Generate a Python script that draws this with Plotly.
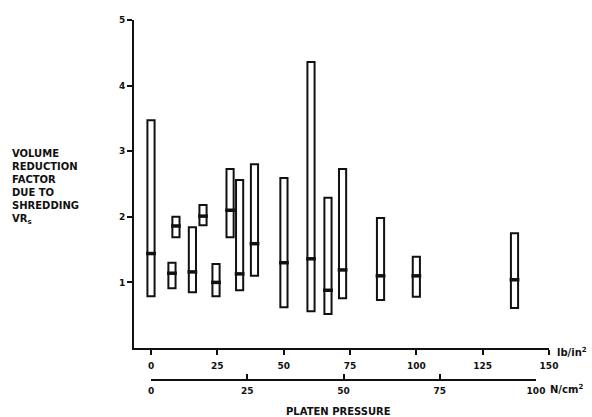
import plotly.graph_objects as go

# Data (platen pressure in lb/in^2, volume reduction factor range and median)
pressure_psi = [0, 7.9, 9.4, 15.6, 19.6, 24.5, 29.8, 33.4, 39.0, 50.1, 60.3, 66.7, 72.2, 86.5, 100, 137]
vr_low =       [0.79, 0.91, 1.69, 0.85, 1.87, 0.79, 1.69, 0.88, 1.10, 0.62, 0.56, 0.52, 0.76, 0.73, 0.78, 0.61]
vr_median =    [1.44, 1.14, 1.86, 1.16, 2.01, 1.00, 2.10, 1.13, 1.59, 1.30, 1.36, 0.88, 1.19, 1.10, 1.10, 1.04]
vr_high =      [3.47, 1.30, 2.00, 1.84, 2.18, 1.28, 2.73, 2.56, 2.80, 2.59, 4.36, 2.29, 2.73, 1.98, 1.39, 1.75]

x_ticks_psi = [0, 25, 50, 75, 100, 125, 150]
x_ticks_ncm = [0, 25, 50, 75, 100]
y_ticks = [1, 2, 3, 4, 5]

W, H = 592, 417
L, R, T, B = 134, 43, 20, 32
pw, ph = W - L - R, H - T - B

def px(x):
    return (x - L) / pw

def py(y):
    return (H - B - y) / ph

INK = "#111111"
FONT = "DejaVu Sans"

fig = go.Figure()
fig.add_trace(go.Bar(
    x=pressure_psi,
    base=vr_low,
    y=[h - l for h, l in zip(vr_high, vr_low)],
    width=2.7,
    marker=dict(color="white", line=dict(color=INK, width=2)),
    hoverinfo="skip",
    showlegend=False,
))
fig.add_trace(go.Scatter(
    x=pressure_psi,
    y=vr_median,
    mode="markers",
    marker=dict(symbol="line-ew", size=7, line=dict(color=INK, width=3.5)),
    showlegend=False,
    hoverinfo="skip",
))
# trace to activate the secondary (N/cm^2) axis
fig.add_trace(go.Scatter(x=[0, 100], y=[-1, -1], xaxis="x2", yaxis="y",
                         mode="markers", marker=dict(opacity=0),
                         showlegend=False, hoverinfo="skip"))

tickfont = dict(family=FONT, size=9, color=INK, weight="bold")
fig.update_layout(
    width=W, height=H,
    margin=dict(l=L, r=R, t=T, b=B),
    paper_bgcolor="white", plot_bgcolor="rgba(0,0,0,0)",
    barmode="overlay",
    xaxis=dict(
        range=[(L - 151) / 2.653, 150], domain=[0, 1], anchor="y",
        tickvals=x_ticks_psi, ticks="outside", ticklen=5, tickwidth=1.5, tickcolor=INK,
        showline=True, linecolor=INK, linewidth=2, showgrid=False, zeroline=False,
        tickfont=tickfont, automargin=False, ticklabelstandoff=3,
    ),
    xaxis2=dict(
        range=[0, 100], domain=[px(151), px(536)], anchor="free", position=py(380),
        side="bottom",
        tickvals=x_ticks_ncm, ticks="inside", ticklen=5, tickwidth=1.5, tickcolor=INK,
        showline=True, linecolor=INK, linewidth=2, showgrid=False, zeroline=False,
        tickfont=tickfont, automargin=False, ticklabelstandoff=2,
    ),
    yaxis=dict(
        range=[0, 5], domain=[py(348), 1],
        tickvals=y_ticks, ticks="outside", ticklen=5, tickwidth=1.5, tickcolor=INK,
        showline=True, linecolor=INK, linewidth=2, showgrid=False, zeroline=False,
        tickfont=tickfont, automargin=False,
    ),
    annotations=[
        dict(text="<b>lb/in<sup>2</sup></b>", x=px(555), y=py(352), xref="paper", yref="paper",
             xanchor="left", yanchor="middle", showarrow=False,
             font=dict(family=FONT, size=10, color=INK)),
        dict(text="<b>N/cm<sup>2</sup></b>", x=px(548), y=py(389), xref="paper", yref="paper",
             xanchor="left", yanchor="middle", showarrow=False,
             font=dict(family=FONT, size=10, color=INK)),
        dict(text="<b>PLATEN PRESSURE</b>", x=px(338), y=py(411), xref="paper", yref="paper",
             xanchor="center", yanchor="middle", showarrow=False,
             font=dict(family=FONT, size=10, color=INK)),
        dict(text="<b>VOLUME<br>REDUCTION<br>FACTOR<br>DUE TO<br>SHREDDING<br>VR<sub>s</sub></b>",
             x=px(10), y=py(187), xref="paper", yref="paper", align="left",
             xanchor="left", yanchor="middle", showarrow=False,
             font=dict(family=FONT, size=10, color=INK)),
    ],
)

fig.write_html("out.html", config={"displayModeBar": False},
               post_script="document.body.style.margin='0';document.body.style.overflow='hidden';")
